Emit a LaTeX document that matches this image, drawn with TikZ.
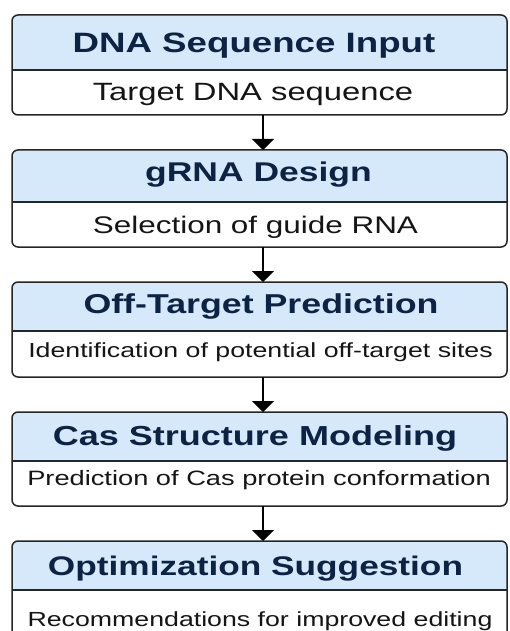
\documentclass[tikz,border=0pt]{standalone}
\usepackage{fontspec}
\setmainfont{Liberation Sans}[FakeStretch=1.31]
\usetikzlibrary{arrows.meta}
\definecolor{headfill}{HTML}{D6E9FA}
\definecolor{headtext}{HTML}{0D2343}
\definecolor{bordercol}{HTML}{262626}
\definecolor{bodytext}{HTML}{151515}
\newcommand{\stepbox}[5]{% name, top, divider, bottom, unused
  \begin{scope}
    \clip (12,#2) rectangle (507,#3);
    \fill[headfill, rounded corners=6pt] (12,#2) rectangle (507,#4);
  \end{scope}
  \node[box, minimum height={(#4)-(#2)}] (#1) at (259.5,{((#2)+(#4))/2}) {};
  \draw[divline] (12,#3) -- (507,#3);
}
\begin{document}
\begin{tikzpicture}[x=1pt,y=-1pt,
  box/.style={draw=bordercol, line width=1.5pt, rounded corners=6pt,
    minimum width=495pt, inner sep=0pt, outer sep=0pt},
  divline/.style={draw=bordercol, line width=1.5pt},
  htext/.style={anchor=base, text=headtext, inner sep=0pt},
  btext/.style={anchor=base, text=bodytext, inner sep=0pt},
  arr/.style={draw=black, line width=1.8pt, -{Triangle[width=22pt,length=11pt]}}]
\clip (0,0) rectangle (509,631);
\fill[white] (0,0) rectangle (509,631);

\stepbox{box1}{15}{70}{115}{}
\stepbox{box2}{150}{202}{247}{}
\stepbox{box3}{282}{331}{377}{}
\stepbox{box4}{412}{461}{506}{}
\stepbox{box5}{541}{590}{642}{}

\node[htext, font=\fontsize{28}{30}\selectfont\bfseries] (h1) at (254,53) {DNA Sequence Input};
\node[btext, font=\fontsize{25}{27}\selectfont] (t1) at (253,101) {Target DNA sequence};

\node[htext, font=\fontsize{27.1}{29}\selectfont\bfseries] (h2) at (258.5,182) {gRNA Design};
\node[btext, font=\fontsize{24}{26}\selectfont] (t2) at (255.5,233) {Selection of guide RNA};

\node[htext, font=\fontsize{27.3}{29}\selectfont\bfseries] (h3) at (261,313) {Off-Target Prediction};
\node[btext, font=\fontsize{20.4}{22}\selectfont] (t3) at (260.5,357) {Identification of potential off-target sites};

\node[htext, font=\fontsize{27.5}{29}\selectfont\bfseries] (h4) at (255,445) {Cas Structure Modeling};
\node[btext, font=\fontsize{20.8}{22}\selectfont] (t4) at (259,485) {Prediction of Cas protein conformation};

\node[htext, font=\fontsize{26.9}{29}\selectfont\bfseries] (h5) at (255.5,575) {Optimization Suggestion};
\node[btext, font=\fontsize{20.4}{22}\selectfont] (t5) at (260,626) {Recommendations for improved editing};

\draw[arr] ([xshift=3.5pt]box1.south) -- ([xshift=3.5pt]box2.north);
\draw[arr] ([xshift=3.5pt]box2.south) -- ([xshift=3.5pt]box3.north);
\draw[arr] ([xshift=3.5pt]box3.south) -- ([xshift=3.5pt]box4.north);
\draw[arr] ([xshift=3.5pt]box4.south) -- ([xshift=3.5pt]box5.north);
\end{tikzpicture}
\end{document}
